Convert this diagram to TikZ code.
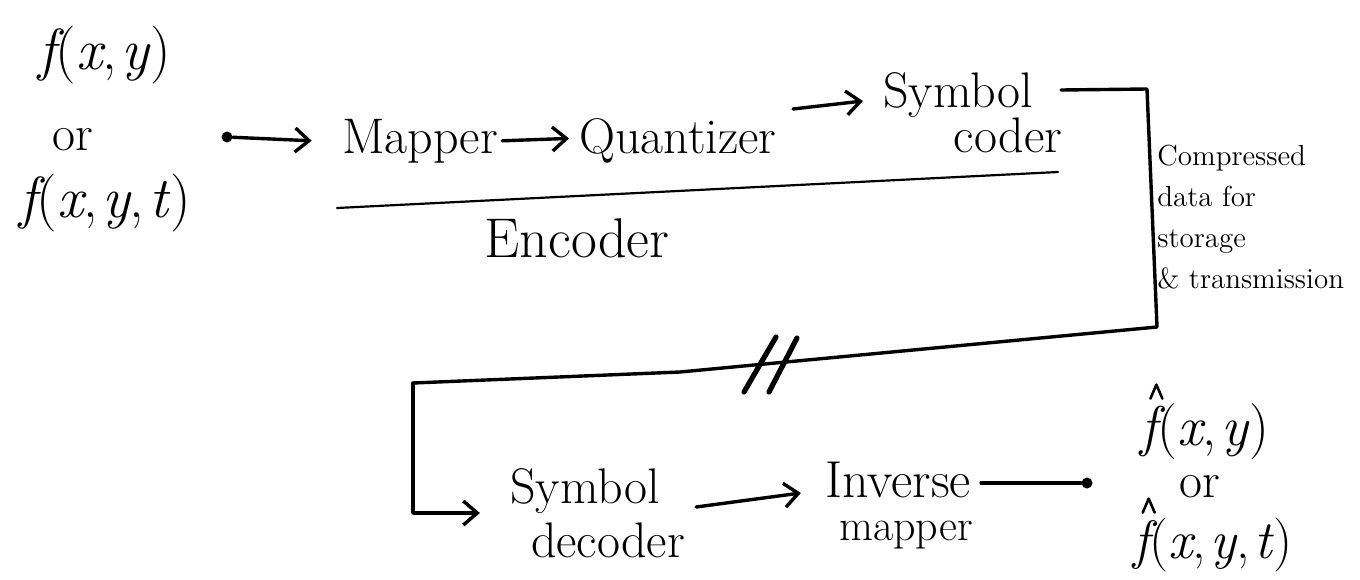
\documentclass[tikz,border=0pt]{standalone}
\usepackage{fontspec}
\usetikzlibrary{arrows.meta}
\newcommand{\fxy}[1]{{\itshape #1}(\textit{x},\kern0.08em\textit{y})}
\newcommand{\fxyt}[1]{{\itshape #1}(\textit{x},\kern0.08em\textit{y},\kern0.08em\textit{t})}
\begin{document}
\begin{tikzpicture}[x=0.5pt,y=-0.5pt,
  lbl/.style={inner sep=0pt, anchor=base, font=\fontsize{25}{28}\selectfont},
  mth/.style={inner sep=0pt, font=\fontsize{29}{30}\selectfont},
  note/.style={inner sep=0pt, align=left, font=\fontsize{14.5}{20.5}\selectfont},
  wire/.style={line width=1.7pt, line cap=round, line join=round},
  arr/.style={wire, -{Straight Barb[length=7pt,width=12pt,line width=1.7pt]}},
  dotn/.style={circle, fill, inner sep=0pt, minimum size=5.5pt},
  slash/.style={line width=2.6pt, line cap=round},
  hat/.style={line width=1.3pt, line cap=round, line join=round}]
\useasboundingbox (0,0) rectangle (1360,579);

% input
\node[mth] (fin1) at (105,55) {\fxy{f}};
\node[lbl] (or1) at (73,150) {or};
\node[mth] (fin2) at (105,203) {\fxyt{f}};
\node[dotn] (indot) at (227,137) {};

% encoder
\node[lbl] (mapper) at (420,153) {Mapper};
\node[lbl] (quant) at (678,153) {Quantizer};
\node[lbl] (sym) at (958,107) {Symbol};
\node[lbl] (coder) at (1008,152) {coder};
\node[lbl, font=\fontsize{28}{30}\selectfont] (enc) at (577,257) {Encoder};
\draw[line width=1.1pt, line cap=round] (337,208) -- (1058,172);

\node[note, anchor=north west] (cmp) at (1157,145) {Compressed\\data for\\storage\\\& transmission};

% decoder
\node[lbl] (sdec1) at (585,503) {Symbol};
\node[lbl] (sdec2) at (608,557) {decoder};
\node[lbl, font=\fontsize{26}{30}\selectfont] (inv1) at (898,497) {Inverse};
\node[lbl, font=\fontsize{22}{26}\selectfont] (inv2) at (906,540) {mapper};
\node[dotn] (outdot) at (1087,483) {};
\node[mth, font=\fontsize{28}{30}\selectfont] (fout1) at (1205,432) {\fxy{f}};
\node[lbl] (or2) at (1200,497) {or};
\node[mth, font=\fontsize{27}{30}\selectfont] (fout2) at (1213,545) {\fxyt{f}};
\draw[hat] ([shift={(5pt,2.5pt)}]fout1.north west) -- ++(3pt,7pt) -- ++(3pt,-7pt);
\draw[hat] ([shift={(5pt,2.5pt)}]fout2.north west) -- ++(3pt,7pt) -- ++(3pt,-7pt);

% channel corners
\coordinate (c1) at (1147,89);
\coordinate (c2) at (1157,327);
\coordinate (cm) at (680,372);
\coordinate (c3) at (413,383);

% connectors
\draw[arr] (indot) -- ([xshift=-15pt]mapper.west);
\draw[arr] ([xshift=2pt]mapper.east) -- ([xshift=-5pt,yshift=1pt]quant.west);
\draw[arr] ([shift={(8pt,22pt)}]quant.base east) -- ([shift={(-10pt,3pt)}]sym.base west);
\draw[wire] ([shift={(14pt,8.5pt)}]sym.base east) -- (c1) -- (c2) -- (cm) -- (c3);
\draw[arr] (c3) |- ([shift={(-15pt,-5pt)}]sdec1.base west);
\draw[slash] (744,392) -- (776,337);
\draw[slash] (769,392) -- (797,338);
\draw[arr] ([shift={(18pt,-2pt)}]sdec1.base east) -- ([shift={(-12pt,2pt)}]inv1.base west);
\draw[wire] ([shift={(5pt,7pt)}]inv1.base east) -- (outdot);
\end{tikzpicture}
\end{document}
